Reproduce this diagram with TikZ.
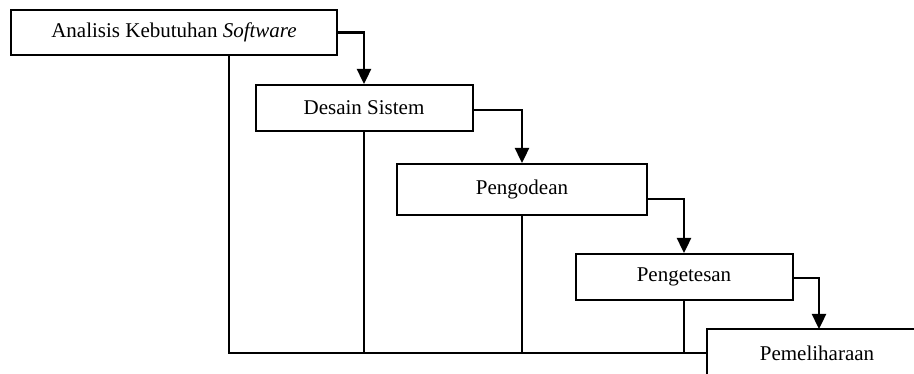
\documentclass[tikz,border=0pt]{standalone}
\usepackage{fontspec}
\setmainfont{Liberation Serif}
\usetikzlibrary{arrows.meta}
\begin{document}
\begin{tikzpicture}[x=1pt,y=-1pt,
  phase/.style={draw,line width=2pt,fill=white,inner sep=0pt,
    font=\fontsize{21}{25}\selectfont},
  flow/.style={line width=2.4pt,-{Triangle[width=14pt,length=15pt]}},
  back/.style={line width=2pt}]
\path[use as bounding box,clip] (0,0) rectangle (914,374);
\fill[white] (0,0) rectangle (914,374);
% waterfall stages
\node[phase,minimum width=326pt,minimum height=45pt] (b1) at (174,32.5) {Analisis Kebutuhan \textit{Software}};
\node[phase,minimum width=217pt,minimum height=46pt] (b2) at (364,108) {Desain Sistem};
\node[phase,minimum width=250pt,minimum height=51pt] (b3) at (522,189.5) {Pengodean};
\node[phase,minimum width=217pt,minimum height=46pt] (b4) at (684,277) {Pengetesan};
% the last stage runs off the right and bottom edges
\node[phase,draw=none,fill=none,minimum width=218pt,minimum height=46pt] (b5) at (817,353) {Pemeliharaan};
\draw[line width=2pt] ([yshift=-30pt]b5.south west) -- (b5.north west) -- ([xshift=40pt]b5.north east);
% forward flow between stages
\draw[flow] (b1.east) -| (b2.north);
\draw[flow] ([yshift=-2pt]b2.east) -| (b3.north);
\draw[flow] ([yshift=-9.5pt]b3.east) -| (b4.north);
\draw[flow] ([yshift=-1pt]b4.east) -| ([xshift=2pt]b5.north);
% feedback lines along the bottom
\coordinate (fb) at (229,353);
\draw[back] (b1.south -| fb) -- (fb) -- (fb -| b5.west);
\draw[back] (b2.south) -- (b2.south |- fb);
\draw[back] (b3.south) -- (b3.south |- fb);
\draw[back] (b4.south) -- (b4.south |- fb);
\end{tikzpicture}
\end{document}
